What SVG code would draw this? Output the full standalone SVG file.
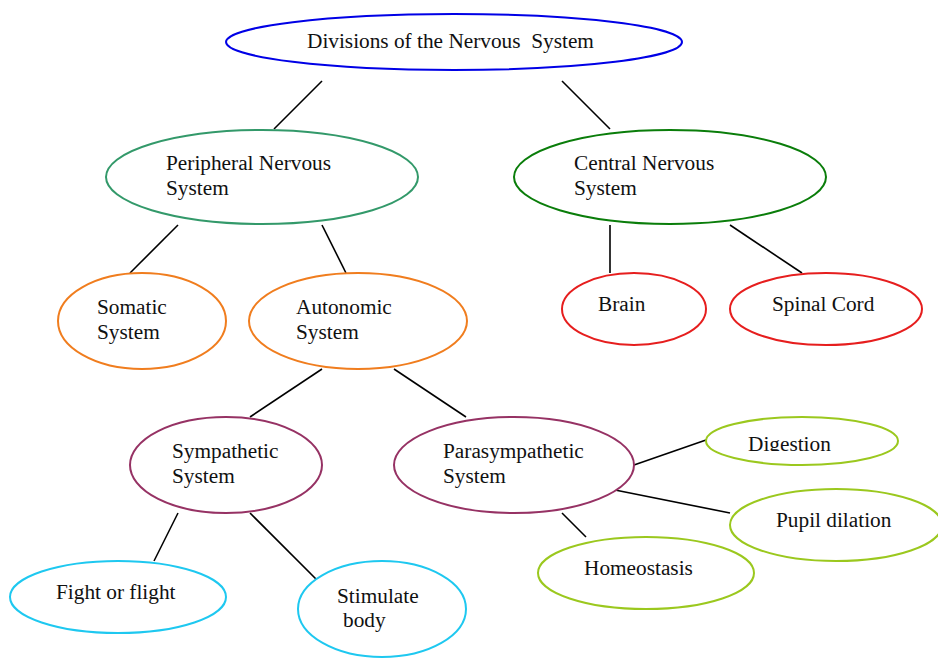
<svg xmlns="http://www.w3.org/2000/svg" width="938" height="658" viewBox="0 0 938 658">
<style>
  ellipse { fill: #fff; stroke-width: 2; }
  text { font-family: "Liberation Serif", "Times New Roman", serif; font-size: 21.3px; fill: #111; }
  .conn line { stroke: #000; stroke-width: 1.6; }
  .blue { stroke: #0000e6; }
  .teal { stroke: #33996a; }
  .green { stroke: #0a7d0a; }
  .orange { stroke: #f07d1e; }
  .red { stroke: #e61e1e; }
  .plum { stroke: #963264; }
  .lime { stroke: #9bc81e; }
  .cyan { stroke: #1ec8f0; }
</style>
<defs>
  <clipPath id="digclip"><rect x="700" y="410" width="238" height="41"/></clipPath>
</defs>
<rect width="938" height="658" fill="#fff"/>
<g id="connectors" class="conn">
  <line x1="322" y1="81" x2="274" y2="129"/>
  <line x1="562" y1="81" x2="610" y2="129"/>
  <line x1="178" y1="225" x2="130" y2="273"/>
  <line x1="322" y1="225" x2="346" y2="273"/>
  <line x1="610" y1="225" x2="610" y2="273"/>
  <line x1="730" y1="225" x2="802" y2="273"/>
  <line x1="322" y1="369" x2="250" y2="417"/>
  <line x1="394" y1="369" x2="466" y2="417"/>
  <line x1="178" y1="513" x2="154" y2="561"/>
  <line x1="250" y1="513" x2="322" y2="585"/>
  <line x1="634" y1="465" x2="706" y2="440"/>
  <line x1="610" y1="489" x2="730" y2="513"/>
  <line x1="562" y1="513" x2="586" y2="537"/>
</g>
<g id="divisions">
  <ellipse class="blue" cx="454" cy="42" rx="228" ry="28"/>
  <text x="307" y="48" xml:space="preserve">Divisions of the Nervous  System</text>
</g>
<g id="peripheral">
  <ellipse class="teal" cx="262" cy="177" rx="156" ry="47"/>
  <text x="166" y="170">Peripheral Nervous</text>
  <text x="166" y="195">System</text>
</g>
<g id="central">
  <ellipse class="green" cx="670" cy="177" rx="156" ry="47"/>
  <text x="574" y="170">Central Nervous</text>
  <text x="574" y="195">System</text>
</g>
<g id="somatic">
  <ellipse class="orange" cx="142" cy="321" rx="84" ry="48"/>
  <text x="97" y="314">Somatic</text>
  <text x="97" y="339">System</text>
</g>
<g id="autonomic">
  <ellipse class="orange" cx="358" cy="321" rx="109" ry="48"/>
  <text x="296" y="314">Autonomic</text>
  <text x="296" y="339">System</text>
</g>
<g id="brain">
  <ellipse class="red" cx="634" cy="309" rx="72" ry="36"/>
  <text x="598" y="311">Brain</text>
</g>
<g id="spinal">
  <ellipse class="red" cx="826" cy="309" rx="96" ry="36"/>
  <text x="772" y="311">Spinal Cord</text>
</g>
<g id="sympathetic">
  <ellipse class="plum" cx="226" cy="465" rx="96" ry="48"/>
  <text x="172" y="458">Sympathetic</text>
  <text x="172" y="483">System</text>
</g>
<g id="parasympathetic">
  <ellipse class="plum" cx="514" cy="465" rx="120" ry="48"/>
  <text x="443" y="458">Parasympathetic</text>
  <text x="443" y="483">System</text>
</g>
<g id="digestion">
  <ellipse class="lime" cx="802" cy="441" rx="96" ry="24"/>
  <text x="748" y="451" clip-path="url(#digclip)">Digestion</text>
</g>
<g id="pupil">
  <ellipse class="lime" cx="836" cy="525" rx="106" ry="36"/>
  <text x="776" y="527">Pupil dilation</text>
</g>
<g id="homeostasis">
  <ellipse class="lime" cx="646" cy="573" rx="108" ry="36"/>
  <text x="584" y="575">Homeostasis</text>
</g>
<g id="fight">
  <ellipse class="cyan" cx="118" cy="597" rx="108" ry="36"/>
  <text x="56" y="599">Fight or flight</text>
</g>
<g id="stimulate">
  <ellipse class="cyan" cx="382" cy="609" rx="84" ry="48"/>
  <text x="337" y="603">Stimulate</text>
  <text x="343" y="627">body</text>
</g>
</svg>
